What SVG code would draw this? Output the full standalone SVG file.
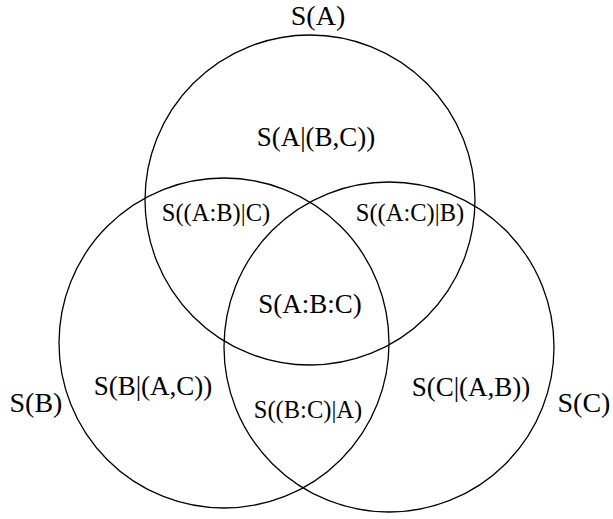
<svg xmlns="http://www.w3.org/2000/svg" width="613" height="519" viewBox="0 0 613 519">
<style>
.c{fill:none;stroke:#000;stroke-width:1.3}
text{font-family:"Liberation Serif","Times New Roman",serif;fill:#000;text-anchor:middle}
.big{font-size:28px}
.mid{font-size:27px}
.sm{font-size:24.5px}
</style>
<rect width="613" height="519" fill="#fff"/>
<g id="setA">
<circle class="c" cx="310" cy="200" r="165"/>
<text class="big" x="318" y="25">S(A)</text>
</g>
<g id="setB">
<circle class="c" cx="224" cy="343" r="165"/>
<text class="big" x="36" y="412">S(B)</text>
</g>
<g id="setC">
<circle class="c" cx="389" cy="347" r="165"/>
<text class="big" x="584" y="412">S(C)</text>
</g>
<g id="regions">
<text class="mid" x="316" y="146">S(A|(B,C))</text>
<text class="sm" x="216" y="221">S((A:B)|C)</text>
<text class="sm" x="410" y="221">S((A:C)|B)</text>
<text class="mid" x="310" y="313">S(A:B:C)</text>
<text class="mid" x="153" y="395">S(B|(A,C))</text>
<text class="sm" x="308" y="418">S((B:C)|A)</text>
<text class="mid" x="471" y="396">S(C|(A,B))</text>
</g>
<g id="connectors"></g>
</svg>
